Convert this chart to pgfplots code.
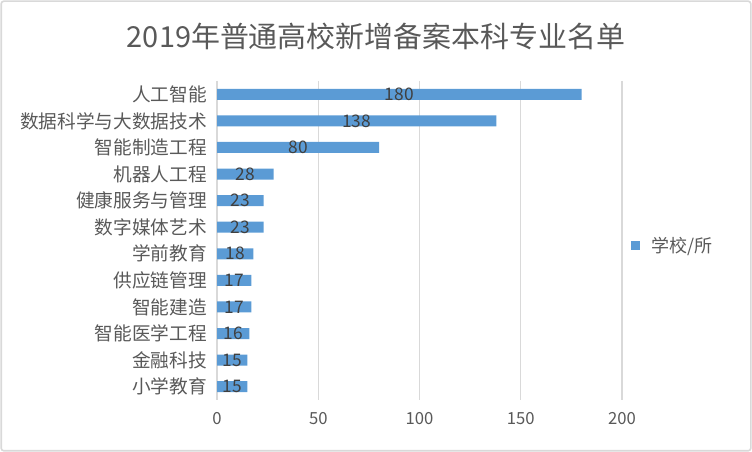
\documentclass[border=0pt]{standalone}
\usepackage{fontspec}
\setmainfont{Noto Sans CJK SC}
\usepackage{pgfplots}
\pgfplotsset{compat=1.18}
\usepackage{pgfplotstable}
\definecolor{barblue}{HTML}{5B9BD5}
\definecolor{txt}{HTML}{595959}
\definecolor{lbl}{HTML}{404040}
\definecolor{gridc}{HTML}{D9D9D9}
\pgfplotstableread{
i v
0 180
1 138
2 80
3 28
4 23
5 23
6 18
7 17
8 17
9 16
10 15
11 15
}\data
\begin{document}
\begin{tikzpicture}
\useasboundingbox (0pt,0pt) rectangle (564pt,339pt);
\draw[gridc, line width=1.2pt, rounded corners=2pt] (0.9pt,0.9pt) rectangle (563.1pt,338.1pt);
\node[txt, font=\fontsize{21.7}{26}\selectfont] at (282pt,312pt) {2019年普通高校新增备案本科专业名单};
\begin{axis}[at={(162.75pt,39pt)}, anchor=south west, scale only axis,
  width=303.75pt, height=239.25pt,
  xmin=0, xmax=200, ymin=-0.5, ymax=11.5, y dir=reverse,
  xtick={0,50,100,150,200}, ytick={0,1,2,3,4,5,6,7,8,9,10,11},
  yticklabels={人工智能,数据科学与大数据技术,智能制造工程,机器人工程,健康服务与管理,数字媒体艺术,学前教育,供应链管理,智能建造,智能医学工程,金融科技,小学教育},
  /pgf/number format/assume math mode=true,
  xmajorgrids, major grid style={gridc, line width=1.1pt},
  axis line style={draw=none}, major tick length=0pt,
  xticklabel style={txt, font=\fontsize{12.5}{15}\selectfont, yshift=-6pt},
  yticklabel style={txt, font=\fontsize{14}{16}\selectfont, xshift=-4pt},
  legend style={at={(1.022,0.483)}, anchor=west, draw=none, fill=none,
    font=\fontsize{13.5}{16}\selectfont, text=txt, inner sep=0pt},
  legend image code/.code={\fill[barblue] (0pt,-3.4pt) rectangle (6.8pt,3.4pt); \path (13.5pt,0pt);},
]
\addplot[xbar, bar width=8.25pt, fill=barblue, draw=none] table[x=v,y=i]{\data};
\addlegendentry{学校/所}
\addplot[forget plot, only marks, mark=none, x filter/.expression={x/2},
  point meta=explicit, nodes near coords,
  nodes near coords style={anchor=center, lbl, font=\fontsize{13}{15}\selectfont},
  /pgf/number format/assume math mode=true]
  table[x=v,y=i,meta=v]{\data};
\end{axis}
\end{tikzpicture}
\end{document}
